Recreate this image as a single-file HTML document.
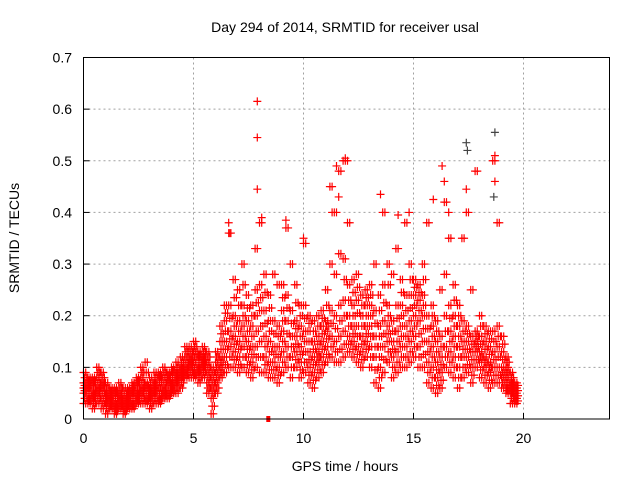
<!DOCTYPE html>
<html><head><meta charset="utf-8">
<style>
body{margin:0;background:#fff;}
svg{display:block;font-family:"Liberation Sans",sans-serif;}
</style></head>
<body>
<svg id="chart" width="640" height="480" viewBox="0 0 640 480" xmlns="http://www.w3.org/2000/svg">
<rect width="640" height="480" fill="#fff"/>
<text x="345" y="32" font-size="14" text-anchor="middle">Day 294 of 2014, SRMTID for receiver usal</text>
<text x="345" y="471" font-size="14" text-anchor="middle">GPS time / hours</text>
<text x="19" y="238" font-size="14" text-anchor="middle" transform="rotate(-90 19 238)">SRMTID / TECUs</text>
<g id="grid"></g>
<g id="axes"></g>
<g id="marks"></g>
<rect x="83.5" y="57.5" width="526" height="361.5" fill="none" stroke="#000" stroke-width="1"/>
</svg>
<script>
const xTicks=[0,5,10,15,20];
const yTicks=[0,0.1,0.2,0.3,0.4,0.5,0.6,0.7];
const yTickLabels=["0","0.1","0.2","0.3","0.4","0.5","0.6","0.7"];
const binStart=0, binStep=0.2;
const v1=[.03,.03,.02,.03,.02,.01,.02,.01,.02,.01,.02,.02,.03,.03,.03,.02,.03,.03,.04,.04,.05,.05,.06,.08,.08,.08,.07,.08,.05,.01,.05,.08,.09,.10,.10,.09,.10,.09,.08,.10,.09,.09,.08,.08,.07,.09,.10,.08,.10,.08,.09,.07,.06,.08,.09,.11,.12,.11,.11,.12,.13,.12,.11,.10,.12,.10,.07,.06,.09,.11,.08,.09,.10,.10,.11,.12,.10,.10,.07,.06,.05,.06,.10,.09,.08,.06,.08,.09,.07,.10,.08,.07,.06,.07,.07,.06,.05,.03,.03];
const v2=[.05,.04,.04,.05,.04,.03,.03,.02,.03,.02,.03,.03,.04,.05,.04,.04,.05,.04,.05,.05,.06,.07,.08,.09,.10,.09,.09,.10,.07,.04,.07,.10,.12,.14,.13,.12,.14,.12,.11,.14,.15,.12,.11,.11,.10,.13,.14,.12,.13,.11,.13,.10,.09,.11,.12,.14,.16,.15,.16,.17,.16,.15,.14,.13,.15,.14,.12,.10,.14,.15,.12,.13,.14,.14,.15,.16,.14,.15,.11,.10,.08,.09,.14,.13,.12,.10,.12,.12,.10,.13,.11,.10,.09,.10,.10,.08,.06,.05,.04];
const v3=[.06,.06,.05,.06,.06,.04,.04,.03,.04,.03,.04,.05,.05,.06,.06,.05,.06,.06,.06,.07,.07,.08,.09,.10,.11,.11,.10,.11,.09,.06,.09,.12,.15,.17,.16,.15,.18,.15,.14,.20,.21,.16,.15,.14,.14,.17,.19,.16,.16,.14,.17,.13,.12,.13,.15,.17,.21,.20,.22,.23,.20,.18,.18,.16,.18,.18,.16,.14,.19,.18,.15,.17,.18,.18,.19,.20,.19,.20,.15,.14,.11,.12,.20,.17,.16,.14,.15,.15,.13,.15,.13,.12,.11,.13,.14,.10,.08,.06,.05];
const v4=[.07,.07,.07,.08,.07,.05,.05,.05,.05,.04,.05,.06,.07,.08,.07,.06,.07,.08,.08,.08,.09,.09,.10,.12,.12,.13,.12,.12,.11,.08,.11,.15,.19,.22,.20,.19,.22,.19,.18,.25,.26,.21,.19,.19,.18,.21,.24,.21,.19,.18,.22,.17,.15,.16,.18,.19,.30,.28,.32,.31,.26,.22,.23,.20,.22,.22,.21,.18,.26,.22,.19,.22,.22,.24,.24,.24,.23,.24,.20,.18,.15,.16,.28,.22,.20,.18,.19,.18,.16,.17,.16,.15,.14,.17,.18,.13,.10,.07,.06];
const v5=[.09,.08,.08,.10,.09,.07,.06,.06,.07,.06,.06,.07,.08,.10,.11,.08,.09,.09,.10,.09,.10,.11,.12,.14,.14,.15,.13,.14,.13,.10,.13,.18,.22,.36,.27,.25,.30,.24,.22,.33,.38,.28,.24,.28,.26,.26,.37,.30,.26,.22,.34,.20,.19,.20,.21,.25,.45,.40,.48,.50,.38,.27,.28,.24,.25,.26,.30,.24,.40,.30,.28,.33,.27,.38,.30,.27,.26,.30,.38,.22,.19,.25,.42,.35,.26,.22,.35,.40,.25,.48,.20,.18,.17,.50,.38,.16,.12,.09,.07];
const spikeT=[7.9,7.9,7.9,8.1,6.6,6.65,9.2,10.0,11.5,11.9,12.0,13.5,14.3,14.8,15.9,16.3,16.4,17.4,17.4,18.7,18.7,18.7,16.6,11.3,11.6,17.45,18.65];
const spikeV=[.615,.545,.445,.39,.38,.36,.385,.35,.49,.505,.50,.435,.395,.40,.425,.49,.46,.445,.535,.555,.51,.46,.40,.40,.43,.52,.43];
const spikeGray=[0,0,0,0,0,0,0,0,0,0,0,0,0,0,0,0,0,0,1,1,0,0,0,0,0,1,1];
const xMin=0,xMax=24,yMin=0,yMax=0.7;
const L=83.5,R=611.5,T=57.5,B=419;
const X=v=>L+(v-xMin)/(xMax-xMin)*(R-L);
const Y=v=>B-(v-yMin)/(yMax-yMin)*(B-T);
const NS="http://www.w3.org/2000/svg";
function mk(tag,attrs,parent){const e=document.createElementNS(NS,tag);for(const k in attrs)e.setAttribute(k,attrs[k]);parent.appendChild(e);return e;}
const grid=document.getElementById('grid'),axes=document.getElementById('axes'),marks=document.getElementById('marks');
xTicks.forEach(t=>{
  const x=X(t);
  if(t>xMin){const g=mk('line',{x1:x,y1:T,x2:x,y2:B,stroke:'#a0a0a0','stroke-dasharray':'2,3'},grid);
  
  }
  const tk=mk('line',{x1:x,y1:B,x2:x,y2:B-6,stroke:'#000'},axes);
  
  
  const lb=mk('text',{x:x,y:443,'font-size':14,'text-anchor':'middle'},axes);lb.textContent=t;
  
  
});
yTicks.forEach((t,i)=>{
  const y=Y(t);
  if(t>yMin&&t<yMax){const g=mk('line',{x1:L,y1:y,x2:609.5,y2:y,stroke:'#a0a0a0','stroke-dasharray':'2,3'},grid);
  
  }
  const tk=mk('line',{x1:L,y1:y,x2:L+6,y2:y,stroke:'#000'},axes);
  
  
  const lb=mk('text',{x:72,y:y+5,'font-size':14,'text-anchor':'end'},axes);lb.textContent=yTickLabels[i];
  
  
});
function plus(t,v,color){
  const x=X(t),y=Y(v);
  const p=mk('path',{d:`M${x-4} ${y}h8M${x} ${y-4}v8`,stroke:color,'stroke-width':1.2,fill:'none'},marks);
  
  
}
spikeT.forEach((t,i)=>{if(spikeGray[i])plus(t,spikeV[i],'#444');});
const levels=[v1,v2,v3,v4,v5];
levels.forEach((arr,k)=>{
  arr.forEach((v,i)=>{
    const t=binStart+i*binStep;
    plus(t,v,'#f00');plus(t+binStep/2,v,'#f00');
    if(k<levels.length-1){
      const nxt=levels[k+1][i];
      const mid=(v+nxt)/2;
      if(nxt-v<0.08){plus(t+binStep/4,mid,'#f00');plus(t+3*binStep/4,mid,'#f00');}
    }
  });
});
spikeT.forEach((t,i)=>{if(!spikeGray[i])plus(t,spikeV[i],'#f00');});
const sq=mk('rect',{x:X(8.4)-2,y:B-3,width:4,height:6,fill:'#f00'},marks);


</script>
</body></html>
